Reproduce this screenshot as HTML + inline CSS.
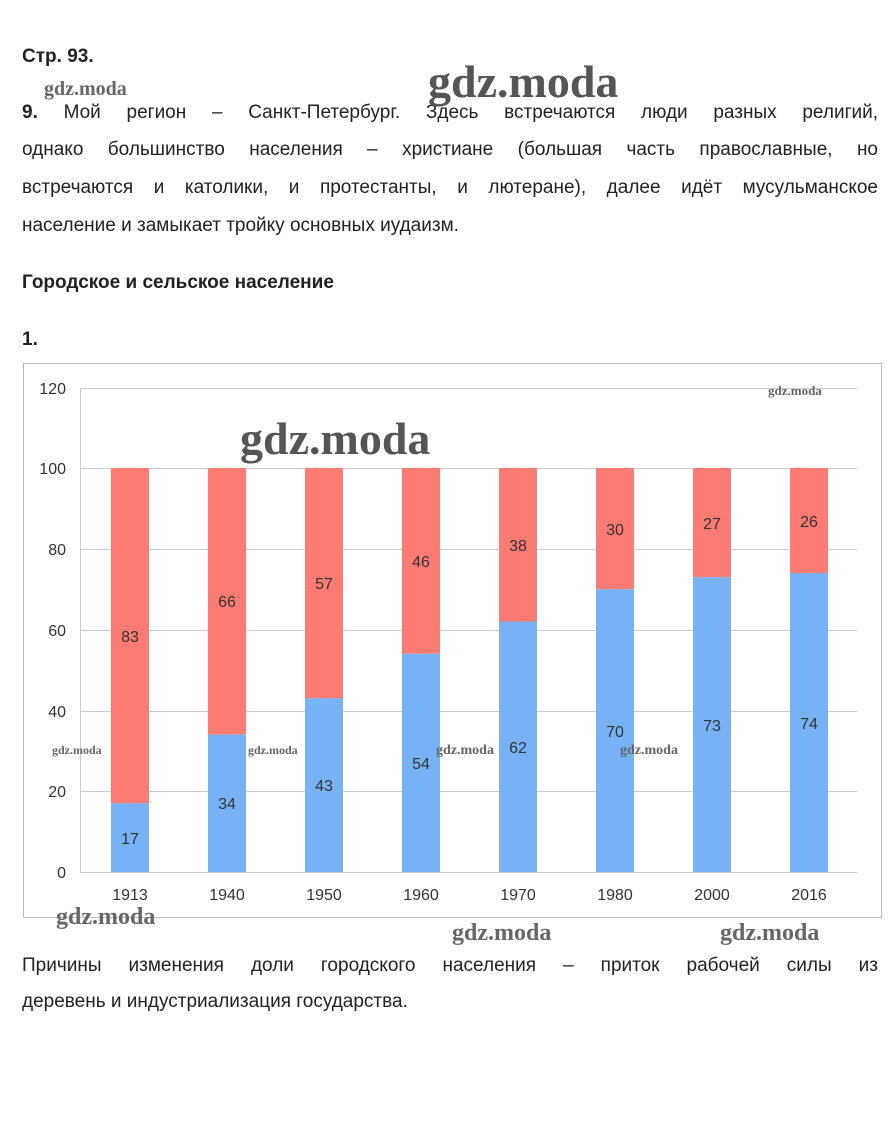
<!DOCTYPE html>
<html><head><meta charset="utf-8"><style>
body{margin:0;width:895px;height:1122px;background:#fff;position:relative;font-family:"Liberation Sans",sans-serif;color:#222;overflow:hidden}
.t{position:absolute;left:22px;width:856px;font-size:19px;line-height:37.5px;text-align:justify;text-align-last:justify}
.n{text-align-last:left}
b{font-weight:bold}
.wm{position:absolute;font-family:"Liberation Serif",serif;font-weight:bold;color:#666}
</style></head><body>
<div class="t n" style="top:38px"><b>Стр. 93.</b></div>
<div class="t" style="top:94px"><b>9.</b> Мой регион – Санкт-Петербург. Здесь встречаются люди разных религий,</div>
<div class="t" style="top:131px">однако большинство населения – христиане (большая часть православные, но</div>
<div class="t" style="top:169px">встречаются и католики, и протестанты, и лютеране), далее идёт мусульманское</div>
<div class="t n" style="top:207px">население и замыкает тройку основных иудаизм.</div>
<div class="t n" style="top:264px"><b>Городское и сельское население</b></div>
<div class="t n" style="top:321px"><b>1.</b></div>
<div class="t" style="top:947px">Причины изменения доли городского населения – приток рабочей силы из</div>
<div class="t n" style="top:983px">деревень и индустриализация государства.</div>
<svg style="position:absolute;left:0;top:0" width="895" height="1122" font-family="Liberation Sans,sans-serif">
<rect x="23.5" y="363.5" width="858" height="554" fill="none" stroke="#bbb"/>
<g stroke="#ccc" stroke-width="1">
<line x1="80" x2="857" y1="388.5" y2="388.5"/><line x1="80" x2="857" y1="468.5" y2="468.5"/>
<line x1="80" x2="857" y1="549.5" y2="549.5"/><line x1="80" x2="857" y1="630.5" y2="630.5"/>
<line x1="80" x2="857" y1="711.5" y2="711.5"/><line x1="80" x2="857" y1="791.5" y2="791.5"/>
<line x1="80" x2="857" y1="872.5" y2="872.5"/><line x1="80.5" x2="80.5" y1="388" y2="872"/>
</g>
<g font-size="16" fill="#333" text-anchor="end">
<text x="66" y="394">120</text><text x="66" y="474">100</text><text x="66" y="555">80</text>
<text x="66" y="636">60</text><text x="66" y="717">40</text><text x="66" y="797">20</text><text x="66" y="878">0</text>
</g>
<g fill="#fd7b73">
<rect x="111" y="468" width="38" height="335.3"/>
<rect x="208" y="468" width="38" height="266.6"/>
<rect x="305" y="468" width="38" height="230.3"/>
<rect x="402" y="468" width="38" height="185.8"/>
<rect x="499" y="468" width="38" height="153.5"/>
<rect x="596" y="468" width="38" height="121.2"/>
<rect x="693" y="468" width="38" height="109.1"/>
<rect x="790" y="468" width="38" height="105"/>
</g>
<g fill="#77b2f7">
<rect x="111" y="803.3" width="38" height="68.7"/>
<rect x="208" y="734.6" width="38" height="137.4"/>
<rect x="305" y="698.3" width="38" height="173.7"/>
<rect x="402" y="653.8" width="38" height="218.2"/>
<rect x="499" y="621.5" width="38" height="250.5"/>
<rect x="596" y="589.2" width="38" height="282.8"/>
<rect x="693" y="577.1" width="38" height="294.9"/>
<rect x="790" y="573" width="38" height="299"/>
</g>
<g font-size="16" fill="#333" text-anchor="middle">
<text x="130" y="844">17</text><text x="130" y="642">83</text>
<text x="227" y="809">34</text><text x="227" y="607">66</text>
<text x="324" y="791">43</text><text x="324" y="589">57</text>
<text x="421" y="769">54</text><text x="421" y="567">46</text>
<text x="518" y="753">62</text><text x="518" y="551">38</text>
<text x="615" y="737">70</text><text x="615" y="535">30</text>
<text x="712" y="731">73</text><text x="712" y="529">27</text>
<text x="809" y="729">74</text><text x="809" y="527">26</text>
</g>
<g font-size="16" fill="#333" text-anchor="middle">
<text x="130" y="900">1913</text><text x="227" y="900">1940</text><text x="324" y="900">1950</text><text x="421" y="900">1960</text>
<text x="518" y="900">1970</text><text x="615" y="900">1980</text><text x="712" y="900">2000</text><text x="809" y="900">2016</text>
</g>
</svg>
<div class="wm" style="left:44px;top:78px;font-size:20px">gdz.moda</div>
<div class="wm" style="left:428px;top:55px;font-size:46px;color:#555">gdz.moda</div>
<div class="wm" style="left:240px;top:412px;font-size:46px;color:#555">gdz.moda</div>
<div class="wm" style="left:768px;top:383px;font-size:13px">gdz.moda</div>
<div class="wm" style="left:52px;top:743px;font-size:12px">gdz.moda</div>
<div class="wm" style="left:248px;top:743px;font-size:12px">gdz.moda</div>
<div class="wm" style="left:436px;top:743px;font-size:14px">gdz.moda</div>
<div class="wm" style="left:620px;top:743px;font-size:14px">gdz.moda</div>
<div class="wm" style="left:56px;top:904px;font-size:24px">gdz.moda</div>
<div class="wm" style="left:452px;top:920px;font-size:24px">gdz.moda</div>
<div class="wm" style="left:720px;top:920px;font-size:24px">gdz.moda</div>
</body></html>
